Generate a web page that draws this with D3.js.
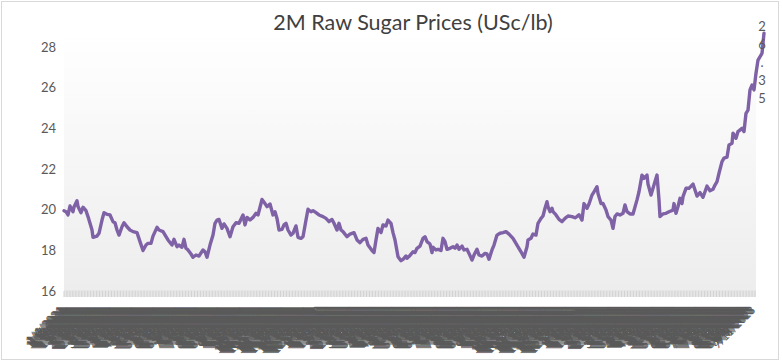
<!DOCTYPE html>
<html><head><meta charset="utf-8">
<script src="https://cdn.jsdelivr.net/npm/d3@7"></script>
<style>html,body{margin:0;padding:0;background:#fff;}svg{display:block;}</style>
</head><body>
<svg id="chart" width="783" height="364"></svg>
<script>
const title = "2M Raw Sugar Prices (USc/lb)";
const yTicks = [16, 18, 20, 22, 24, 26, 28];
const lastLabel = "26.35";
const nCategories = 701;
const startDate = "2021-01-04";
// index into category list, price (USc/lb)
const pointIndex = [0,2,4,6,9,10,13,14,17,19,22,24,28,29,33,35,38,40,43,46,49,51,53,55,58,60,63,66,69,73,76,79,82,84,87,89,93,95,99,102,104,108,110,113,115,118,120,122,124,127,129,132,135,139,141,143,146,149,151,153,155,158,160,163,166,169,172,175,179,181,183,186,189,192,194,198,201,203,206,209,211,213,215,218,220,222,224,227,229,232,234,237,239,242,244,247,249,252,255,259,262,265,268,270,273,275,277,279,283,286,290,293,296,299,302,304,308,310,312,314,317,319,322,324,327,329,331,334,337,339,342,343,346,349,351,353,356,359,361,363,366,368,369,372,374,377,379,381,383,386,389,391,393,395,398,400,403,405,408,410,413,415,418,421,423,425,428,430,433,436,439,442,445,449,453,457,460,463,464,467,469,472,474,477,479,481,483,484,486,488,489,492,495,498,501,504,508,511,513,515,518,520,523,525,528,530,533,534,537,539,542,544,547,549,551,553,556,559,561,563,566,569,573,575,578,580,583,584,587,589,592,593,595,596,599,602,605,609,610,612,614,616,618,619,622,625,629,631,633,636,639,641,643,646,649,651,653,655,658,660,663,665,668,669,672,674,678,680,682,684,686,688,690,692,694,698,700];
const prices = [19.95,19.9,19.74,20.18,19.9,20.13,20.44,20.15,19.85,20.12,19.95,19.66,19.0,18.64,18.7,18.84,19.49,19.85,19.77,19.74,19.41,19.36,19.0,18.75,19.16,19.36,19.16,19.0,18.92,18.87,18.43,17.99,18.26,18.34,18.34,18.7,19.13,19.0,18.92,18.67,18.51,18.26,18.54,18.18,18.26,18.15,18.54,18.1,18.02,17.82,17.66,17.77,17.72,18.02,17.93,17.66,18.26,18.75,19.33,19.49,19.52,19.08,19.3,19.08,18.67,19.16,19.36,19.33,19.74,19.25,19.62,19.49,19.62,19.82,19.74,20.5,20.3,20.15,20.28,19.74,19.9,19.57,19.0,19.03,19.25,19.33,19.0,18.75,18.84,19.2,18.64,18.59,18.67,19.49,20.02,19.9,19.95,19.85,19.74,19.66,19.57,19.41,19.52,19.33,19.0,19.33,19.0,18.92,18.67,18.8,18.87,18.51,18.38,18.54,18.59,18.26,17.99,17.89,18.51,19.08,18.87,19.25,19.2,19.49,19.33,18.87,18.51,17.69,17.49,17.56,17.72,17.61,17.75,17.93,17.89,18.1,18.21,18.59,18.67,18.43,18.31,17.89,18.15,18.02,18.05,17.99,18.59,18.43,18.05,18.1,18.18,18.1,18.26,18.05,18.21,18.02,18.05,17.85,17.52,17.77,18.05,17.77,17.72,17.85,17.82,17.56,18.02,18.26,18.75,18.84,18.87,18.92,18.8,18.59,18.26,17.93,17.66,18.18,18.51,18.59,18.8,18.75,19.33,19.57,19.69,20.07,20.39,20.15,19.9,20.07,19.9,19.74,19.52,19.41,19.57,19.69,19.66,19.6,19.66,19.75,19.49,20.3,20.07,20.28,20.72,20.88,21.13,20.8,20.3,20.3,19.98,19.66,19.49,19.08,19.66,19.79,19.74,19.82,20.23,19.9,19.79,19.79,20.48,20.88,21.7,21.54,21.7,21.26,20.72,21.05,21.54,21.7,20.48,19.66,19.79,19.82,19.9,19.98,20.3,19.82,20.15,20.56,20.3,20.64,21.05,21.05,21.26,20.97,20.67,20.84,20.61,20.88,21.16,20.93,21.0,21.21,21.38,21.79,22.36,22.53,22.58,23.18,23.26,23.76,23.51,23.84,24.0,23.84,24.74,24.9,25.89,26.13,25.89,26.71,27.36,27.69,28.68];

// category labels: trading days
const fmt = d3.timeFormat("%-m/%-d/%Y");
const categories = [];
{
  let d = d3.timeParse("%Y-%m-%d")(startDate);
  while (categories.length < nCategories) {
    const wd = d.getDay();
    if (wd !== 0 && wd !== 6) categories.push(fmt(d));
    d = d3.timeDay.offset(d, 1);
  }
}

const svg = d3.select("#chart");
const font = "Lato, 'Open Sans', sans-serif";

svg.append("rect").attr("x",1.5).attr("y",1.5).attr("width",777).attr("height",358)
  .attr("fill","#fff").attr("stroke","#d9d9d9");

const defs = svg.append("defs");
const grad = defs.append("linearGradient").attr("id","wall").attr("x1",0).attr("y1",0).attr("x2",0).attr("y2",1);
grad.append("stop").attr("offset","0%").attr("stop-color","#ffffff");
grad.append("stop").attr("offset","100%").attr("stop-color","#ededed");

const y = d3.scaleLinear().domain([16, 28]).range([291, 47]);
const xAxis = d3.scalePoint().domain(d3.range(nCategories)).range([64, 756]);
const xLine = d3.scaleLinear().domain([0, nCategories - 1]).range([64, 764]);

// back wall
svg.append("rect").attr("x",64).attr("y",y(28.8)).attr("width",692).attr("height",y(16)-y(28.8))
  .attr("fill","url(#wall)");

// floor
svg.append("rect").attr("x",64).attr("y",y(16)-1).attr("width",692).attr("height",7)
  .attr("fill","#e6e6e6");
svg.append("g").selectAll("line").data(d3.range(0, nCategories, 3)).join("line")
  .attr("x1", i => xAxis(i)).attr("x2", i => xAxis(i))
  .attr("y1", y(16)).attr("y2", y(16)+6)
  .attr("stroke","#d2d2d2").attr("stroke-width",1);

// y tick labels
svg.append("g").selectAll("text").data(yTicks).join("text")
  .attr("x", 56).attr("y", d => y(d)).attr("dy","0.35em")
  .attr("text-anchor","end").attr("font-family",font).attr("font-size",13)
  .attr("fill","#595959").text(d => d);

// x category labels
svg.append("g").selectAll("text").data(categories).join("text")
  .attr("transform", (d,i) => `translate(${xAxis(i)},${y(16)+20}) rotate(-45)`)
  .attr("text-anchor","end").attr("font-family",font).attr("font-size",11)
  .attr("fill","#595959").text(d => d);

// line
const data = pointIndex.map((k,i) => ({k, v: prices[i]}));
svg.append("path").datum(data)
  .attr("fill","none").attr("stroke","#7f61a6").attr("stroke-width",3.4)
  .attr("stroke-linejoin","round").attr("stroke-linecap","round")
  .attr("d", d3.line().x(d => xLine(d.k)).y(d => y(d.v)));

// last value label (wrapped char by char)
const lbl = svg.append("text").attr("font-family",font).attr("font-size",13).attr("fill","#595959")
  .attr("text-anchor","middle");
lastLabel.split("").forEach((c,i) => {
  lbl.append("tspan").attr("x", xLine(nCategories-1)-2).attr("y", 31 + i*18).text(c);
});

// title
svg.append("text").attr("x",413).attr("y",30).attr("text-anchor","middle")
  .attr("font-family",font).attr("font-size",21.5).attr("fill","#404040").text(title);
</script>
</body></html>
